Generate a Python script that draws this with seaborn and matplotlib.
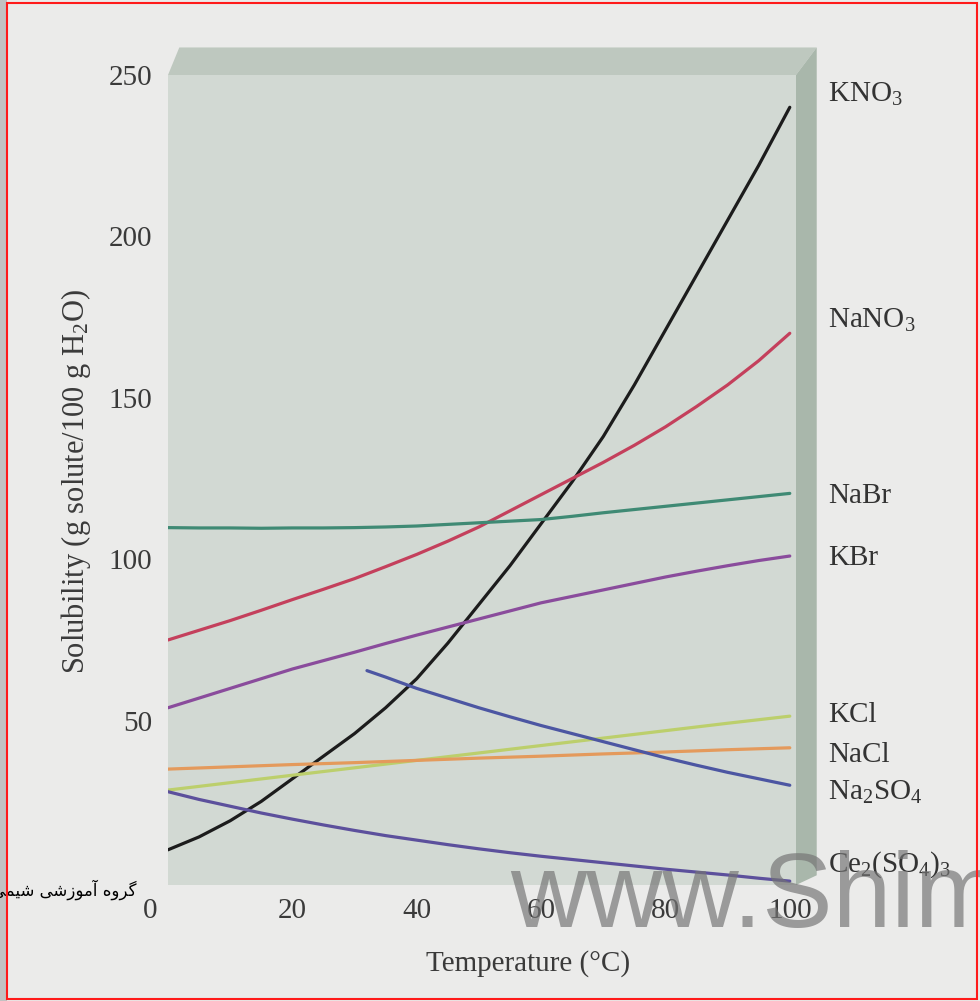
import numpy as np
import pandas as pd
import matplotlib
matplotlib.use("Agg")
import matplotlib.pyplot as plt
import seaborn as sns
from matplotlib.patches import Polygon, Rectangle
from matplotlib.transforms import ScaledTranslation

# solubility curves (g solute / 100 g water)
temp_fine = [0, 5, 10, 15, 20, 25, 30, 35, 40, 45, 50,
             55, 60, 65, 70, 75, 80, 85, 90, 95, 100]
kno3 = [10, 14, 19, 25, 32, 39, 46, 54, 63, 74, 86,
        98, 111, 124, 138, 154, 171, 188, 205, 222, 240]
nano3 = [75, 78, 81, 84.2, 87.5, 90.7, 94, 97.7, 101.5, 105.6, 110,
         115, 120, 125, 130, 135.3, 141, 147.3, 154, 161.5, 170]
nabr = [109.8, 109.7, 109.7, 109.6, 109.7, 109.7, 109.8, 110, 110.3, 110.8, 111.3,
        111.8, 112.3, 113.3, 114.4, 115.4, 116.4, 117.4, 118.4, 119.4, 120.4]
kbr = [54, 57, 60, 63, 66, 68.6, 71.2, 73.9, 76.5, 79, 81.5,
       84, 86.5, 88.5, 90.5, 92.5, 94.5, 96.3, 98, 99.6, 101]
ce2so43 = [28, 25.6, 23.5, 21.4, 19.5, 17.7, 16, 14.4, 13, 11.6, 10.3,
           9.1, 8, 7, 6, 5, 4, 3.1, 2.2, 1.2, 0.3]

temp_c = [0, 10, 20, 30, 40, 50, 60, 70, 80, 90, 100]
kcl = [28.5, 30.8, 33.1, 35.4, 37.7, 40.0, 42.3, 44.6, 46.9, 49.2, 51.4]
nacl = [35, 35.7, 36.4, 37, 37.7, 38.4, 39, 39.7, 40.3, 41, 41.6]

na2so4_temp_c = [32, 35, 40, 45, 50, 55, 60, 65, 70, 75, 80, 85, 90, 95, 100]
na2so4 = [65.5, 63.5, 60, 57, 54, 51.2, 48.5, 46, 43.5, 41, 38.5, 36.2, 34, 32, 30]

salts = ["KNO3", "NaNO3", "NaBr", "KBr", "KCl", "NaCl", "Na2SO4", "Ce2(SO4)3"]
salt_labels = [r"KNO$_3$", r"NaNO$_3$", "NaBr", "KBr", "KCl", "NaCl",
               r"Na$_2$SO$_4$", r"Ce$_2$(SO$_4$)$_3$"]
# where the names sit next to the box (baseline, in data units)
label_y = [241.6, 171.6, 117.4, 98.2, 49.6, 37.2, 25.4, 3.1]

x_ticks = [0, 20, 40, 60, 80, 100]
y_ticks = [50, 100, 150, 200, 250]

colors = {
    "KNO3": "#1c1c1c",
    "NaNO3": "#c4405c",
    "NaBr": "#3f8a74",
    "KBr": "#8a4c9c",
    "KCl": "#bccf6c",
    "NaCl": "#e49a5c",
    "Na2SO4": "#4c56a2",
    "Ce2(SO4)3": "#5c509c",
}

# long-form table for seaborn
series = {
    "KNO3": (temp_fine, kno3),
    "NaNO3": (temp_fine, nano3),
    "NaBr": (temp_fine, nabr),
    "KBr": (temp_fine, kbr),
    "KCl": (temp_c, kcl),
    "NaCl": (temp_c, nacl),
    "Na2SO4": (na2so4_temp_c, na2so4),
    "Ce2(SO4)3": (temp_fine, ce2so43),
}
rows = []
for name, (temps, vals) in series.items():
    for t, v in zip(temps, vals):
        rows.append((name, t, v))
df = pd.DataFrame(rows, columns=["salt", "temp", "solubility"])

# persian watermark text, shaped by hand (matplotlib has no arabic shaping)
FORMS = {  # isolated, final, initial, medial
    "گ": ("\uFB92", "\uFB93", "\uFB94", "\uFB95"),
    "ر": ("\uFEAD", "\uFEAE", None, None),
    "و": ("\uFEED", "\uFEEE", None, None),
    "ه": ("\uFEE9", "\uFEEA", "\uFEEB", "\uFEEC"),
    "آ": ("\uFE81", "\uFE82", None, None),
    "م": ("\uFEE1", "\uFEE2", "\uFEE3", "\uFEE4"),
    "ز": ("\uFEAF", "\uFEB0", None, None),
    "ش": ("\uFEB5", "\uFEB6", "\uFEB7", "\uFEB8"),
    "ی": ("\uFBFC", "\uFBFD", "\uFBFE", "\uFBFF"),
}


def shape_fa(text):
    out = []
    for i, ch in enumerate(text):
        if ch not in FORMS:
            out.append(ch)
            continue
        f = FORMS[ch]
        prev = text[i - 1] if i > 0 else " "
        nxt = text[i + 1] if i + 1 < len(text) else " "
        joins_prev = prev in FORMS and FORMS[prev][2] is not None
        joins_next = nxt in FORMS and f[2] is not None
        if joins_prev and joins_next:
            out.append(f[3])
        elif joins_prev:
            out.append(f[1])
        elif joins_next:
            out.append(f[2])
        else:
            out.append(f[0])
    return "".join(reversed(out))


sns.set_style("white")
plt.rcParams["font.family"] = ["Liberation Serif", "DejaVu Serif"]
plt.rcParams["mathtext.default"] = "regular"

W, H = 980, 1001
fig = plt.figure(figsize=(W / 100, H / 100), dpi=100, facecolor="#ebebea")

# axes box in pixels: left 168, right 796, bottom 885, top 75
ax = fig.add_axes([168 / W, (H - 885) / H, 628 / W, 810 / H])
ax.set_facecolor("#d2d9d3")
for s in ax.spines.values():
    s.set_visible(False)

# fake 3d edges of the box
ox, oy = 0.033, 0.034
ax.add_patch(Polygon([(0, 1), (0.018, 1 + oy), (1 + ox, 1 + oy), (1, 1)],
                     closed=True, transform=ax.transAxes, clip_on=False,
                     facecolor="#bec8bf", edgecolor="none", zorder=0.5))
ax.add_patch(Polygon([(1, 1), (1 + ox, 1 + oy), (1 + ox, 0.012), (1, 0)],
                     closed=True, transform=ax.transAxes, clip_on=False,
                     facecolor="#a9b7ab", edgecolor="none", zorder=0.5))

sns.lineplot(data=df, x="temp", y="solubility", hue="salt", hue_order=salts,
             palette=colors, estimator=None, linewidth=2.3, legend=False, ax=ax)

ax.set_xlim(0, 101)
ax.set_ylim(-0.9, 250)
ax.set_xticks(x_ticks)
ax.set_yticks(y_ticks)
ax.tick_params(direction="in", length=17, width=1.4, color="#555555",
               labelcolor="#3a3a3a", labelsize=21)
ax.tick_params(axis="y", pad=11.5)
ax.tick_params(axis="x", pad=9.5)
ax.xaxis.get_major_ticks()[0].tick1line.set_visible(False)
zero_lbl = ax.xaxis.get_major_ticks()[0].label1
zero_lbl.set_transform(zero_lbl.get_transform()
                       + ScaledTranslation(-18 / 100, 0, fig.dpi_scale_trans))

ax.set_xlabel("Temperature (°C)", fontsize=21, color="#3a3a3a")
ax.xaxis.set_label_coords((528 - 168) / 628, (885 - 950) / 810)
ax.set_ylabel(r"Solubility (g solute/100 g H$_2$O)", fontsize=22, color="#3a3a3a")
ax.yaxis.set_label_coords((93 - 168) / 628, (885 - 481) / 810)

# names next to the curve ends
for lbl, y in zip(salt_labels, label_y):
    ax.text(106.1, y, lbl, fontsize=21, color="#333333", ha="left",
            va="baseline", clip_on=False)

# page decorations: grey strip, red frame, watermarks
fig.add_artist(Rectangle((0, 0), 7 / W, 1, transform=fig.transFigure,
                         facecolor="#c2c2c2", edgecolor="none"))
fig.add_artist(Rectangle((7 / W, 2 / H), 970 / W, 996 / H,
                         transform=fig.transFigure, facecolor="none",
                         edgecolor="#ff1a1a", linewidth=1.5, zorder=5))
fig.text(136 / W, (H - 890) / H, shape_fa("گروه آموزشی شیمی"),
         family="DejaVu Sans", fontsize=12, color="black",
         ha="right", va="center")
fig.text(510 / W, (H - 927) / H, "www.Shimi", family="Liberation Sans",
         fontsize=76, color="#747474", alpha=0.68, ha="left", va="baseline",
         zorder=4)

fig.savefig("out.png", dpi=100, facecolor=fig.get_facecolor())
